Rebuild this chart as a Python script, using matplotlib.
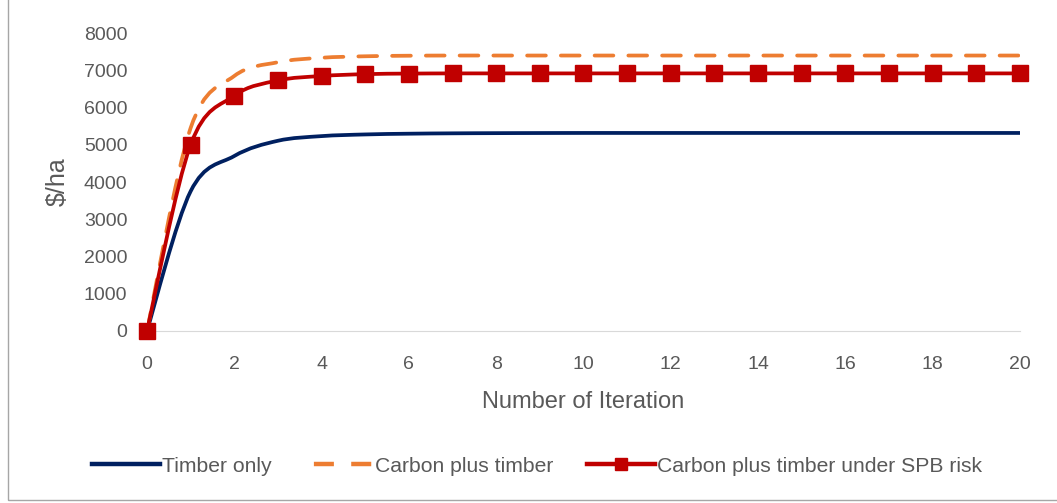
import numpy as np
import matplotlib.pyplot as plt
from matplotlib.path import Path
from matplotlib.patches import PathPatch, Rectangle
from matplotlib.lines import Line2D

plt.rcParams['font.family'] = ['Liberation Sans', 'DejaVu Sans']

# values
iterations = list(range(21))
timber_only = [0, 3750, 4700, 5110, 5235, 5280, 5300, 5310, 5315, 5318, 5320,
               5320, 5320, 5320, 5320, 5320, 5320, 5320, 5320, 5320, 5320]
carbon_timber = [0, 5450, 6850, 7220, 7340, 7380, 7395, 7400, 7400, 7400, 7400,
                 7400, 7400, 7400, 7400, 7400, 7400, 7400, 7400, 7400, 7400]
carbon_spb = [0, 5000, 6320, 6730, 6850, 6900, 6915, 6920, 6920, 6920, 6920,
              6920, 6920, 6920, 6920, 6920, 6920, 6920, 6920, 6920, 6920]
labels = ['Timber only', 'Carbon plus timber', 'Carbon plus timber under SPB risk']

navy = '#002060'
orange = '#ED7D31'
red = '#C00000'
grey = '#595959'


def smooth_path(x, y):
    # Excel-style smoothed line: cubic Bezier segments (Catmull-Rom tangents)
    x = np.asarray(x, float)
    y = np.asarray(y, float)
    verts = [(x[0], y[0])]
    codes = [Path.MOVETO]
    n = len(x)
    for i in range(n - 1):
        x0, y0 = (x[i - 1], y[i - 1]) if i > 0 else (x[i], y[i])
        x3, y3 = (x[i + 2], y[i + 2]) if i + 2 < n else (x[i + 1], y[i + 1])
        c1 = (x[i] + (x[i + 1] - x0) / 6, y[i] + (y[i + 1] - y0) / 6)
        c2 = (x[i + 1] - (x3 - x[i]) / 6, y[i + 1] - (y3 - y[i]) / 6)
        verts += [c1, c2, (x[i + 1], y[i + 1])]
        codes += [Path.CURVE4] * 3
    return Path(verts, codes)


fig = plt.figure(figsize=(10.57, 5.03), dpi=100)
ax = fig.add_axes([0.139, 0.342, 0.826, 0.592])

ax.add_patch(PathPatch(smooth_path(iterations, timber_only), fill=False,
                       edgecolor=navy, lw=2.7, capstyle='round'))
ax.add_patch(PathPatch(smooth_path(iterations, carbon_timber), fill=False,
                       edgecolor=orange, lw=2.7, linestyle=(0, (5, 4)),
                       capstyle='round'))
ax.add_patch(PathPatch(smooth_path(iterations, carbon_spb), fill=False,
                       edgecolor=red, lw=2.7))
ax.plot(iterations, carbon_spb, linestyle='none', marker='s', ms=11,
        color=red, zorder=4, clip_on=False)

ax.set_xlim(0, 20)
ax.set_ylim(0, 8000)
ax.set_xticks(range(0, 21, 2))
ax.set_yticks(range(0, 8001, 1000))
for s in ['top', 'right', 'left']:
    ax.spines[s].set_visible(False)
ax.spines['bottom'].set_color('#D9D9D9')
ax.tick_params(length=0, labelsize=14, colors=grey)
ax.tick_params(axis='x', pad=18)
ax.tick_params(axis='y', pad=14)
ax.set_xlabel('Number of Iteration', fontsize=17, color=grey, labelpad=13)
ax.set_ylabel('$/ha', fontsize=18, color=grey, labelpad=10)

handles = [Line2D([], [], color=navy, lw=3.2),
           Line2D([], [], color=orange, lw=3.2, linestyle=(6.4, (4.5, 3.9))),
           Line2D([], [], color=red, lw=3.2, marker='s', ms=8)]
fig.legend(handles, labels, loc='center', bbox_to_anchor=(0.508, 0.073), ncol=3,
           frameon=False, fontsize=15.2, handlelength=3.2, columnspacing=1.6,
           handletextpad=0.1, labelcolor=grey)

fig.add_artist(Rectangle((0.008, 0.006), 1.2, 1.2, transform=fig.transFigure,
                         fill=False, edgecolor='#A6A6A6', lw=1))

fig.savefig('out.png', dpi=100)
